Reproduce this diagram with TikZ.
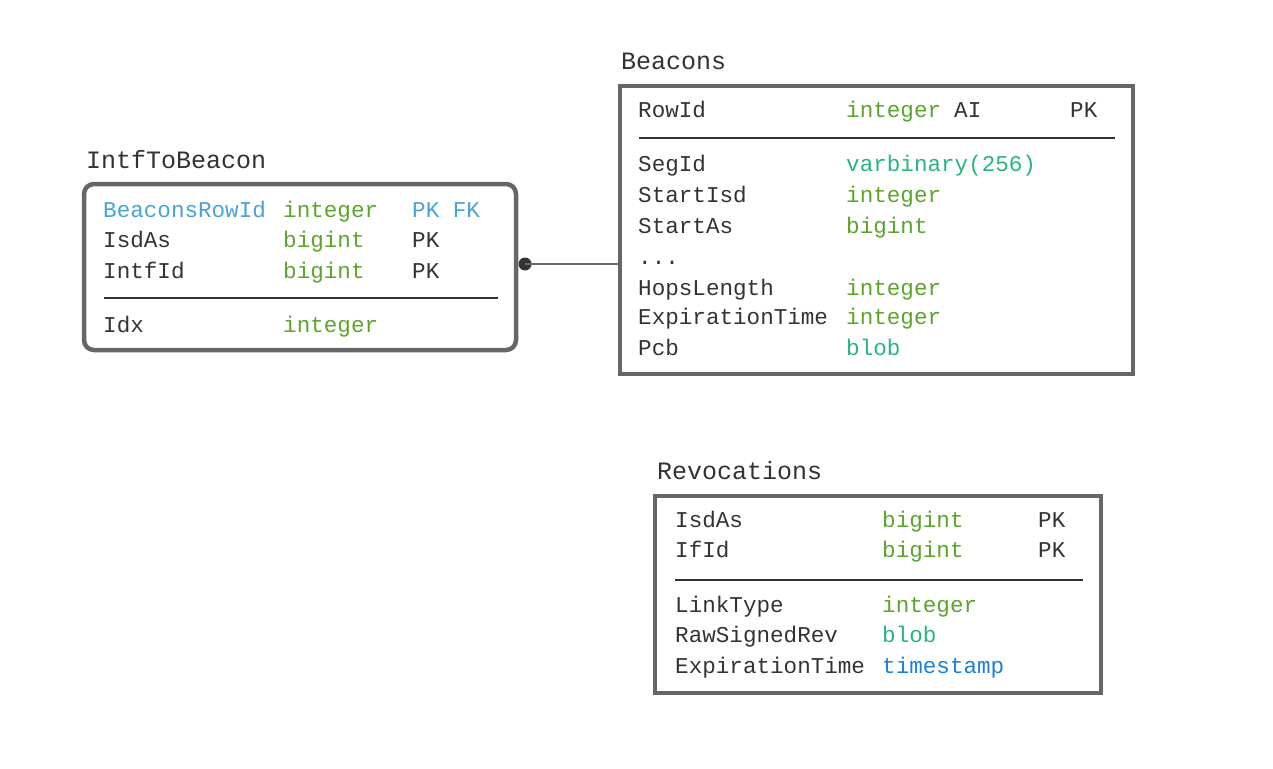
\documentclass[tikz,border=0pt]{standalone}
\usepackage{fontspec}
\setmainfont{Liberation Mono}
\begin{document}
\begin{tikzpicture}[x=1pt,y=-1pt,
  txt/.style={anchor=base west,inner sep=0pt,font=\fontsize{22.6}{26}\selectfont,text=dark},
  ttl/.style={txt,font=\fontsize{25}{29}\selectfont},
  grn/.style={txt,text=typegreen},
  teal/.style={txt,text=typeteal},
  blu/.style={txt,text=typeblue},
  lblu/.style={txt,text=keyblue},
  tbl/.style={draw=boxgray,line width=4.5pt,inner sep=0pt,outer sep=0pt,anchor=north west},
  sep/.style={draw=dark,line width=1.3pt}]
\definecolor{dark}{HTML}{333333}
\definecolor{boxgray}{HTML}{666666}
\definecolor{typegreen}{HTML}{5BA52B}
\definecolor{typeteal}{HTML}{27B57D}
\definecolor{typeblue}{HTML}{1E80D0}
\definecolor{keyblue}{HTML}{48A3DA}
\useasboundingbox (0,0) rectangle (1273,768);
% ---------- IntfToBeacon ----------
\node[ttl] (t1) at (86,168) {IntfToBeacon};
\node[tbl,rounded corners=10pt,minimum width=432pt,minimum height=166pt] (b1) at (84,184) {};
\node[lblu] (b1r1a) at (103,217) {BeaconsRowId};
\node[grn]  (b1r1b) at (283,217) {integer};
\node[lblu] (b1r1c) at (412,217) {PK FK};
\node[txt]  (b1r2a) at (103,247) {IsdAs};
\node[grn]  (b1r2b) at (283,247) {bigint};
\node[txt]  (b1r2c) at (412,247) {PK};
\node[txt]  (b1r3a) at (103,278) {IntfId};
\node[grn]  (b1r3b) at (283,278) {bigint};
\node[txt]  (b1r3c) at (412,278) {PK};
\coordinate (s1a) at (104,298);
\coordinate (s1b) at (498,298);
\draw[sep] (s1a) -- (s1b);
\node[txt]  (b1r4a) at (103,332) {Idx};
\node[grn]  (b1r4b) at (283,332) {integer};
% ---------- Beacons ----------
\node[ttl] (t2) at (621,69) {Beacons};
\node[tbl,minimum width=513pt,minimum height=288pt] (b2) at (620,86) {};
\node[txt] (b2r1a) at (638,117) {RowId};
\node[grn] (b2r1b) at (846,117) {integer};
\node[txt] (b2r1c) at (954,117) {AI};
\node[txt] (b2r1d) at (1070,117) {PK};
\coordinate (s2a) at (639,138);
\coordinate (s2b) at (1115,138);
\draw[sep] (s2a) -- (s2b);
\node[txt]  (b2r2a) at (638,171) {SegId};
\node[teal] (b2r2b) at (846,171) {varbinary(256)};
\node[txt]  (b2r3a) at (638,202) {StartIsd};
\node[grn]  (b2r3b) at (846,202) {integer};
\node[txt]  (b2r4a) at (638,233) {StartAs};
\node[grn]  (b2r4b) at (846,233) {bigint};
\node[txt]  (b2r5a) at (638,264) {...};
\node[txt]  (b2r6a) at (638,295) {HopsLength};
\node[grn]  (b2r6b) at (846,295) {integer};
\node[txt]  (b2r7a) at (638,324) {ExpirationTime};
\node[grn]  (b2r7b) at (846,324) {integer};
\node[txt]  (b2r8a) at (638,355) {Pcb};
\node[teal] (b2r8b) at (846,355) {blob};
% ---------- Revocations ----------
\node[ttl] (t3) at (657,479) {Revocations};
\node[tbl,minimum width=446pt,minimum height=197pt] (b3) at (655,496) {};
\node[txt] (b3r1a) at (675,527) {IsdAs};
\node[grn] (b3r1b) at (882,527) {bigint};
\node[txt] (b3r1c) at (1038,527) {PK};
\node[txt] (b3r2a) at (675,557) {IfId};
\node[grn] (b3r2b) at (882,557) {bigint};
\node[txt] (b3r2c) at (1038,557) {PK};
\coordinate (s3a) at (675,580);
\coordinate (s3b) at (1083,580);
\draw[sep] (s3a) -- (s3b);
\node[txt]  (b3r3a) at (675,612) {LinkType};
\node[grn]  (b3r3b) at (882,612) {integer};
\node[txt]  (b3r4a) at (675,642) {RawSignedRev};
\node[teal] (b3r4b) at (882,642) {blob};
\node[txt]  (b3r5a) at (675,673) {ExpirationTime};
\node[blu]  (b3r5b) at (882,673) {timestamp};
% ---------- connector ----------
\node[circle,fill=dark,inner sep=0pt,outer sep=0pt,minimum size=13pt] (dot) at (525,264) {};
\draw[boxgray,line width=1.8pt] (dot.center) -- (b2.west |- dot.center);
\end{tikzpicture}
\end{document}
